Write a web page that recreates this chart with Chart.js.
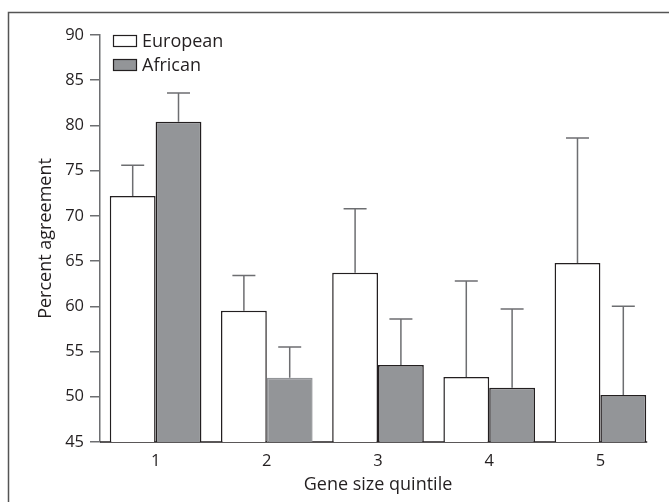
<!DOCTYPE html>
<html>
<head>
<meta charset="utf-8">
<script src="https://cdn.jsdelivr.net/npm/chart.js@4"></script>
<style>
  body { margin: 0; background: #fff; }
  #wrap { width: 669px; height: 502px; }
</style>
</head>
<body>
<div id="wrap"><canvas id="myChart" width="669" height="502"></canvas></div>
<script>
// data
const quintiles = ["1", "2", "3", "4", "5"];
const european = [72.2, 59.5, 63.7, 52.2, 64.8];
const african = [80.4, 52.1, 53.5, 51.0, 50.2];
// top of each error bar
const europeanErr = [75.6, 63.4, 70.8, 62.8, 78.6];
const africanErr = [83.6, 55.5, 58.6, 59.7, 60.0];
const yTicks = [45, 50, 55, 60, 65, 70, 75, 80, 85, 90];

const FONT = "'Open Sans', 'Liberation Sans', sans-serif";
const dark = "#231f20";
const greyFill = "#939598";
const errColor = "#6d6e71";

// frame round the whole figure
const framePlugin = {
  id: "frame",
  beforeDraw(chart) {
    const c = chart.ctx;
    c.save();
    c.fillStyle = "#fff";
    c.fillRect(0, 0, chart.width, chart.height);
    c.strokeStyle = "#555";
    c.lineWidth = 1.5;
    c.strokeRect(8.5, 12.5, 700, 600);
    c.restore();
  }
};

// upward error bars with a cap, plus x axis line that stops at the last bar
const errorBars = {
  id: "errorBars",
  beforeDatasetsDraw(chart) {
    const c = chart.ctx;
    const y = chart.scales.y;
    const tops = [europeanErr, africanErr];
    c.save();
    c.strokeStyle = errColor;
    c.lineWidth = 1.5;
    chart.data.datasets.forEach((ds, i) => {
      const meta = chart.getDatasetMeta(i);
      meta.data.forEach((bar, j) => {
        const yt = y.getPixelForValue(tops[i][j]);
        c.beginPath();
        c.moveTo(bar.x, bar.y);
        c.lineTo(bar.x, yt);
        c.moveTo(bar.x - 11.5, yt);
        c.lineTo(bar.x + 11.5, yt);
        c.stroke();
      });
    });
    const last = chart.getDatasetMeta(1).data[quintiles.length - 1];
    const base = chart.chartArea.bottom;
    c.strokeStyle = dark;
    c.beginPath();
    c.moveTo(chart.chartArea.left, base);
    c.lineTo(last.x + last.width / 2 + 1, base);
    c.stroke();
    c.restore();
  }
};

// legend drawn inside the plot, top left
const insideLegend = {
  id: "insideLegend",
  afterDraw(chart) {
    const c = chart.ctx;
    c.save();
    c.font = "18px " + FONT;
    c.textBaseline = "middle";
    chart.data.datasets.forEach((ds, i) => {
      const yy = 41 + i * 24;
      c.fillStyle = ds.backgroundColor;
      c.fillRect(113, yy - 6, 24, 12);
      c.strokeStyle = dark;
      c.lineWidth = 1.2;
      c.strokeRect(113.5, yy - 5.5, 23, 11);
      c.fillStyle = dark;
      c.fillText(ds.label, 142, yy + 1);
    });
    c.restore();
  }
};

const ctx = document.getElementById("myChart").getContext("2d");
const chart = new Chart(ctx, {
  type: "bar",
  data: {
    labels: quintiles,
    datasets: [
      {
        label: "European",
        data: european,
        backgroundColor: "#ffffff",
        borderColor: dark,
        borderWidth: 1.5,
        borderSkipped: false
      },
      {
        label: "African",
        data: african,
        backgroundColor: greyFill,
        borderColor: [dark, greyFill, dark, dark, dark],
        borderWidth: 1.5,
        borderSkipped: false
      }
    ]
  },
  options: {
    responsive: false,
    animation: false,
    layout: { padding: { left: 10, top: 35, right: 13, bottom: 0 } },
    datasets: { bar: { barPercentage: 1, categoryPercentage: 0.824 } },
    plugins: { legend: { display: false }, tooltip: { enabled: false } },
    scales: {
      x: {
        grid: { display: false, drawTicks: false },
        border: { display: false },
        ticks: { color: dark, font: { family: FONT, size: 16.5 }, padding: 9 },
        title: { display: true, text: "Gene size quintile", color: dark,
                 font: { family: FONT, size: 18 }, padding: { top: 2, bottom: 6 } },
        afterFit: (s) => { s.height = 60; }
      },
      y: {
        min: 45,
        max: 90,
        afterBuildTicks: (s) => { s.ticks = yTicks.map(v => ({ value: v })); },
        grid: { display: true, drawOnChartArea: false, tickLength: 10, color: errColor, lineWidth: 1.5 },
        border: { color: errColor, width: 1.5 },
        ticks: { color: dark, font: { family: FONT, size: 16.5 }, padding: 6 },
        title: { display: true, text: "Percent agreement", color: dark,
                 font: { family: FONT, size: 18 }, padding: { top: 25, bottom: 0 } },
        afterFit: (s) => { s.width = 90; }
      }
    }
  },
  plugins: [framePlugin, errorBars, insideLegend]
});
</script>
</body>
</html>
